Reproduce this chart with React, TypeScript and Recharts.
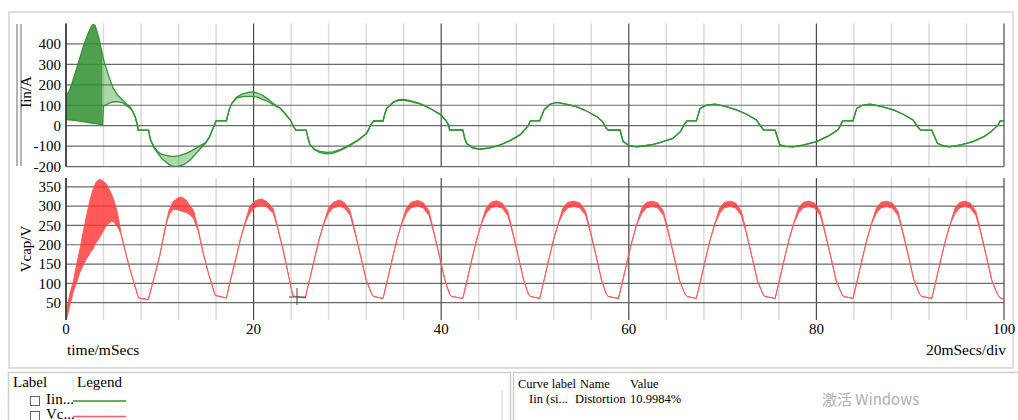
import React from "react";
import { ComposedChart, Line, Area, XAxis, YAxis, CartesianGrid } from "recharts";

// axis ticks and grid positions (ms / A / V)
const timeTicks = [0, 20, 40, 60, 80, 100];
const minorTimes = [4, 8, 12, 16, 24, 28, 32, 36, 44, 48, 52, 56, 64, 68, 72, 76, 84, 88, 92, 96];
const iinTicks = [-200, -100, 0, 100, 200, 300, 400];
const vcapTicks = [50, 100, 150, 200, 250, 300, 350];

// Iin (A): low / high edge of the trace (equal where the trace is a single line)
const iinTime = [
  0, 0.3, 0.7, 1.1, 1.5, 1.9, 2.3, 2.7, 2.9, 3.1,
  3.5, 3.9, 4.0, 4.5, 5.0, 5.5, 6.1, 6.5, 6.8, 7.1,
  7.4, 7.6, 7.7, 8.8, 9.0, 9.4, 9.8, 10.2, 10.7, 11.2,
  11.6, 12.0, 12.5, 12.9, 13.4, 13.9, 14.4, 14.9, 15.3, 15.7,
  16.0, 17.1, 17.4, 17.7, 18.2, 18.8, 19.3, 19.8, 20.4, 21.0,
  21.4, 22.0, 22.5, 22.8, 23.3, 23.9, 24.3, 24.5, 25.6, 25.8,
  26.0, 26.5, 27.1, 27.8, 28.5, 29.3, 30.3, 31.2, 32.05, 32.4,
  32.6, 32.8, 33.8, 34.0, 34.2, 34.9, 35.5, 35.96, 36.8, 37.7,
  38.4, 39.1, 40.0, 40.5, 40.8, 40.9, 42.3, 42.5, 42.7, 43.3,
  44.1, 45.2, 46.3, 47.4, 48.4, 49.0, 49.3, 49.5, 50.5, 50.96,
  51.6, 52.3, 53.3, 54.4, 55.5, 56.6, 57.2, 57.6, 57.8, 59.06,
  59.4, 60.0, 60.8, 61.7, 62.6, 63.3, 64.7, 65.5, 66.0, 66.2,
  67.2, 67.6, 68.3, 69.2, 70.3, 71.5, 72.6, 73.6, 74.1, 74.4,
  75.6, 76.1, 76.7, 77.5, 78.7, 80.0, 81.3, 82.3, 82.6, 82.8,
  83.9, 84.3, 84.9, 85.7, 86.9, 88.2, 89.3, 90.3, 90.8, 91.1,
  92.3, 92.9, 93.5, 94.2, 95.4, 96.7, 97.9, 98.6, 99.0, 99.4,
  99.6, 100,
];
const iinLow = [
  30, 29, 27, 25, 22, 19, 16, 13, 12, 10,
  8, 5, 95, 108, 116, 118, 111, 96, 87, 70,
  40, 5, -22, -22, -68, -110, -135, -160, -180, -195,
  -200, -198, -192, -180, -160, -134, -108, -85, -55, -10,
  24, 24, 80, 111, 135, 142, 144, 144, 140, 128,
  122, 105, 92, 87, 62, 29, -8, -22, -22, -60,
  -93, -118, -132, -138, -134, -120, -96, -70, -37, -5,
  12, 23, 23, 60, 85, 114, 124, 125, 118, 107,
  93, 77, 52, 25, 3, -21, -21, -60, -86, -107,
  -115, -108, -94, -72, -45, -15, 3, 24, 24, 77,
  105, 114, 106, 93, 72, 44, 20, -13, -21, -21,
  -78, -96, -103, -98, -91, -83, -62, -29, 12, 24,
  24, 85, 101, 106, 95, 77, 55, 28, -5, -22,
  -22, -94, -101, -103, -94, -78, -50, -20, 3, 24,
  24, 85, 100, 105, 95, 77, 55, 28, -5, -22,
  -22, -86, -98, -103, -94, -78, -52, -30, -13, 5,
  24, 24,
];
const iinHigh = [
  147, 165, 215, 275, 335, 395, 445, 485, 495, 490,
  430, 345, 323, 250, 186, 150, 122, 104, 95, 72,
  40, 5, -22, -22, -68, -105, -128, -140, -145, -150,
  -150, -148, -140, -134, -122, -109, -95, -82, -55, -10,
  24, 24, 80, 111, 140, 155, 162, 165, 160, 148,
  135, 112, 95, 87, 62, 29, -8, -22, -22, -60,
  -93, -114, -126, -130, -128, -116, -92, -68, -37, -5,
  12, 23, 23, 60, 85, 117, 128, 129, 121, 109,
  95, 77, 52, 25, 3, -21, -21, -60, -86, -107,
  -115, -108, -94, -72, -45, -15, 3, 24, 24, 77,
  105, 114, 106, 93, 72, 44, 20, -13, -21, -21,
  -78, -96, -103, -98, -91, -83, -62, -29, 12, 24,
  24, 85, 101, 106, 95, 77, 55, 28, -5, -22,
  -22, -94, -101, -103, -94, -78, -50, -20, 3, 24,
  24, 85, 100, 105, 95, 77, 55, 28, -5, -22,
  -22, -86, -98, -103, -94, -78, -52, -30, -13, 5,
  24, 24,
];

// Vcap (V): low / high edge of the trace
const vcapTime = [
  0, 0.07, 0.43, 0.78, 1.1, 1.5, 1.85, 2.2, 2.55, 2.9,
  3.2, 3.55, 3.9, 4.3, 4.87, 5.05, 5.4, 5.6, 5.9, 6.3,
  6.8, 7.2, 7.7, 7.75, 8.77, 9.4, 10.0, 10.7, 11.0, 11.4,
  11.9, 12.3, 12.8, 13.2, 13.6, 14.1, 14.6, 15.2, 15.9, 16.06,
  17.1, 17.6, 18.2, 18.6, 19.1, 19.6, 20.2, 20.8, 21.4, 22.1,
  22.6, 23.2, 23.6, 24.06, 24.2,
  25.5, 26.0, 26.5, 27.0, 27.5, 28.0, 28.5, 29.15, 29.7, 30.3, 30.8, 31.4, 32.0, 32.6, 32.8,
  33.8, 34.3, 34.8, 35.3, 35.8, 36.3, 36.8, 37.5, 38.1, 38.7, 39.2, 39.8, 40.4, 40.9, 41.1,
  42.3, 42.8, 43.3, 43.8, 44.3, 44.8, 45.3, 45.9, 46.5, 47.1, 47.6, 48.2, 48.8, 49.3, 49.5,
  50.5, 51.0, 51.5, 52.0, 52.5, 53.0, 53.5, 54.2, 54.8, 55.4, 55.9, 56.5, 57.1, 57.6, 57.8,
  58.9, 59.4, 59.9, 60.4, 60.9, 61.4, 61.9, 62.55, 63.1, 63.7, 64.2, 64.8, 65.4, 66.0, 66.2,
  67.2, 67.7, 68.2, 68.7, 69.2, 69.7, 70.2, 70.85, 71.4, 72.0, 72.5, 73.1, 73.7, 74.3, 74.5,
  75.6, 76.1, 76.6, 77.1, 77.6, 78.1, 78.6, 79.2, 79.8, 80.4, 80.9, 81.5, 82.1, 82.7, 82.9,
  83.9, 84.4, 84.9, 85.4, 85.9, 86.4, 86.9, 87.5, 88.1, 88.7, 89.2, 89.8, 90.4, 91.0, 91.2,
  92.3, 92.8, 93.3, 93.8, 94.3, 94.8, 95.3, 95.85, 96.4, 97.0, 97.5, 98.1, 98.7, 99.3, 99.6,
  100,
];
const vcapLow = [
  8, 8, 45, 78, 100, 130, 148, 164, 178, 190,
  205, 218, 233, 250, 261, 260, 250, 242, 225, 185,
  138, 105, 65, 62, 58, 115, 173, 255, 278, 292,
  291, 287, 284, 278, 268, 235, 181, 125, 69, 68,
  62, 115, 173, 215, 255, 282, 298, 302, 298, 281,
  240, 181, 135, 82, 67,
  62, 112, 165, 215, 255, 282, 296, 300, 295, 276, 232, 172, 108, 72, 66,
  61, 112, 165, 215, 255, 282, 296, 300, 295, 276, 232, 172, 108, 72, 66,
  61, 112, 165, 215, 255, 282, 296, 299, 295, 276, 232, 172, 108, 72, 66,
  61, 112, 165, 215, 255, 282, 296, 299, 295, 276, 232, 172, 108, 72, 66,
  61, 112, 165, 215, 255, 282, 296, 299, 295, 276, 232, 172, 108, 72, 66,
  61, 112, 165, 215, 255, 282, 296, 299, 295, 276, 232, 172, 108, 72, 66,
  61, 112, 165, 215, 255, 282, 296, 299, 295, 276, 232, 172, 108, 72, 66,
  61, 112, 165, 215, 255, 282, 296, 299, 295, 276, 232, 172, 108, 72, 66,
  61, 112, 165, 215, 255, 282, 296, 299, 295, 276, 232, 172, 108, 72, 62,
  60,
];
const vcapHigh = [
  8, 30, 75, 104, 145, 190, 235, 276, 315, 345,
  362, 370, 366, 358, 330, 319, 290, 268, 225, 185,
  138, 105, 65, 62, 58, 115, 173, 259, 290, 311,
  321, 324, 316, 302, 289, 240, 181, 125, 69, 68,
  62, 115, 173, 215, 259, 300, 314, 319, 312, 293,
  242, 181, 135, 82, 67,
  62, 112, 165, 215, 258, 296, 310, 316, 309, 287, 236, 172, 108, 72, 66,
  61, 112, 165, 215, 258, 296, 310, 315, 309, 287, 236, 172, 108, 72, 66,
  61, 112, 165, 215, 258, 296, 310, 314, 308, 287, 236, 172, 108, 72, 66,
  61, 112, 165, 215, 258, 296, 310, 313, 308, 287, 236, 172, 108, 72, 66,
  61, 112, 165, 215, 258, 296, 310, 313, 308, 287, 236, 172, 108, 72, 66,
  61, 112, 165, 215, 258, 296, 310, 313, 308, 287, 236, 172, 108, 72, 66,
  61, 112, 165, 215, 258, 296, 310, 313, 308, 287, 236, 172, 108, 72, 66,
  61, 112, 165, 215, 258, 296, 310, 313, 308, 287, 236, 172, 108, 72, 66,
  61, 112, 165, 215, 258, 296, 310, 313, 308, 287, 236, 172, 108, 72, 62,
  60,
];

// start-up switching burst is drawn denser than the later ripple
const denseUntil = 3.9;
const iinData = iinTime.map((t, i) => ({
  t,
  lo: iinLow[i],
  hi: iinHigh[i],
  dense: t <= denseUntil ? [iinLow[i], iinHigh[i]] : null,
  light: t >= denseUntil ? [iinLow[i], iinHigh[i]] : null,
}));
const vcapData = vcapTime.map((t, i) => ({ t, lo: vcapLow[i], hi: vcapHigh[i], band: [vcapLow[i], vcapHigh[i]] }));

const serif = "'Liberation Serif', 'Times New Roman', serif";
const green = "#2e962e";
const red = "#ff5c5c";

const YTick = (props: any) => (
  <text x={props.x} y={props.y} dy="0.35em" textAnchor="end" fontSize={15} fontFamily={serif} fill="#000">
    {props.payload.value}
  </text>
);
const XTick = (props: any) => (
  <text x={props.x} y={props.y} dy="0.71em" textAnchor="middle" fontSize={15} fontFamily={serif} fill="#000">
    {props.payload.value}
  </text>
);

export default function App() {
  return (
    <div
      style={{
        position: "absolute",
        left: 0,
        top: 0,
        width: 1018,
        height: 420,
        background: "#fff",
        overflow: "hidden",
        fontFamily: serif,
      }}
    >
      <div style={{ position: "absolute", left: 8, top: 11, width: 1006, height: 358, border: "2px solid #dedede", boxSizing: "border-box" }} />

      <div style={{ position: "absolute", left: 0, top: 0 }}>
        <ComposedChart width={1018} height={178} data={iinData} margin={{ top: 23.5, right: 14, bottom: 11.4, left: 0 }}>
          <CartesianGrid horizontal={false} verticalValues={minorTimes} stroke="#dadada" strokeWidth={1.5} />
          <CartesianGrid vertical={false} horizontalValues={iinTicks} stroke="#6a6a6a" strokeWidth={1.2} />
          <CartesianGrid horizontal={false} verticalValues={timeTicks} stroke="#4a4a4a" strokeWidth={1.2} />
          <XAxis type="number" dataKey="t" domain={[0, 100]} hide />
          <YAxis
            type="number"
            domain={[-200, 500]}
            ticks={iinTicks}
            interval={0}
            allowDataOverflow
            width={66}
            tickSize={0}
            tickMargin={5}
            axisLine={{ stroke: "#333", strokeWidth: 1.5 }}
            tick={YTick}
          />
          <Area dataKey="dense" type="linear" stroke="none" fill="#2f8f2f" fillOpacity={0.85} isAnimationActive={false} activeDot={false} />
          <Area dataKey="light" type="linear" stroke="none" fill="#4aa84a" fillOpacity={0.45} isAnimationActive={false} activeDot={false} />
          <Line dataKey="hi" type="linear" stroke={green} strokeWidth={1.3} dot={false} activeDot={false} isAnimationActive={false} />
          <Line dataKey="lo" type="linear" stroke={green} strokeWidth={1.3} dot={false} activeDot={false} isAnimationActive={false} />
        </ComposedChart>
      </div>

      <div style={{ position: "absolute", left: 0, top: 170 }}>
        <ComposedChart width={1018} height={180} data={vcapData} margin={{ top: 8, right: 14, bottom: 0, left: 0 }}>
          <CartesianGrid horizontal={false} verticalValues={minorTimes} stroke="#dadada" strokeWidth={1.5} />
          <CartesianGrid vertical={false} horizontalValues={vcapTicks} stroke="#6a6a6a" strokeWidth={1.2} />
          <CartesianGrid horizontal={false} verticalValues={timeTicks} stroke="#4a4a4a" strokeWidth={1.2} />
          <XAxis
            type="number"
            dataKey="t"
            domain={[0, 100]}
            ticks={timeTicks}
            interval={0}
            height={30}
            tickSize={0}
            tickMargin={3}
            axisLine={false}
            tick={XTick}
          />
          <YAxis
            type="number"
            domain={[5, 373]}
            ticks={vcapTicks}
            interval={0}
            allowDataOverflow
            width={66}
            tickSize={0}
            tickMargin={5}
            axisLine={{ stroke: "#333", strokeWidth: 1.5 }}
            tick={YTick}
          />
          <Area dataKey="band" type="linear" stroke="none" fill="#ff3030" fillOpacity={0.8} isAnimationActive={false} activeDot={false} />
          <Line dataKey="hi" type="linear" stroke={red} strokeWidth={1} dot={false} activeDot={false} isAnimationActive={false} />
          <Line dataKey="lo" type="linear" stroke={red} strokeWidth={1} dot={false} activeDot={false} isAnimationActive={false} />
        </ComposedChart>
      </div>

      <svg width={1018} height={420} style={{ position: "absolute", left: 0, top: 0, pointerEvents: "none" }} fontFamily={serif}>
        {/* selected-axis marker */}
        <line x1={17} y1={24} x2={17} y2={166} stroke="#666" />
        <line x1={21} y1={24} x2={21} y2={166} stroke="#666" />
        <text x={31} y={92} transform="rotate(-90 31 92)" textAnchor="middle" fontSize={15}>Iin/A</text>
        <text x={31} y={249} transform="rotate(-90 31 249)" textAnchor="middle" fontSize={15}>Vcap/V</text>
        <text x={67} y={355} fontSize={15.5}>time/mSecs</text>
        <text x={1006} y={355} fontSize={15.5} textAnchor="end">20mSecs/div</text>
        {/* cursor */}
        <line x1={289} y1={297} x2={306} y2={297} stroke="#444" />
        <line x1={297} y1={288} x2={297} y2={305} stroke="#444" />

        {/* legend panel */}
        <rect x={8.5} y={372.5} width={502} height={60} fill="none" stroke="#cfcfcf" strokeWidth={1.5} />
        <rect x={513.5} y={372.5} width={510} height={60} fill="none" stroke="#cfcfcf" strokeWidth={1.5} />
        <line x1={73} y1={375} x2={73} y2={392} stroke="#e0e0e0" />
        <line x1={502} y1={390} x2={502} y2={420} stroke="#d0d0d0" />
        <text x={13} y={387} fontSize={15}>Label</text>
        <text x={77} y={387} fontSize={15}>Legend</text>
        <rect x={30.5} y={396.5} width={9} height={9} fill="#fff" stroke="#666" />
        <rect x={30.5} y={411.5} width={9} height={9} fill="#fff" stroke="#666" />
        <text x={46} y={404} fontSize={15}>Iin...</text>
        <text x={46} y={418.5} fontSize={15}>Vc...</text>
        <line x1={73} y1={401} x2={126} y2={401} stroke={green} strokeWidth={1.5} />
        <line x1={73} y1={416.5} x2={126} y2={416.5} stroke={red} strokeWidth={1.5} />

        <text x={518} y={388} fontSize={12.5}>Curve label</text>
        <text x={580} y={388} fontSize={12.5}>Name</text>
        <text x={630} y={388} fontSize={12.5}>Value</text>
        <text x={529} y={403} fontSize={12.5}>Iin (si...</text>
        <text x={575} y={403} fontSize={12.5}>Distortion</text>
        <text x={630} y={403} fontSize={12.5}>10.9984%</text>
        <text x={822} y={405} fontSize={15} fill="#b0b0b0" fontFamily="'Noto Sans CJK SC', 'Noto Sans', sans-serif">激活 Windows</text>
      </svg>
    </div>
  );
}
